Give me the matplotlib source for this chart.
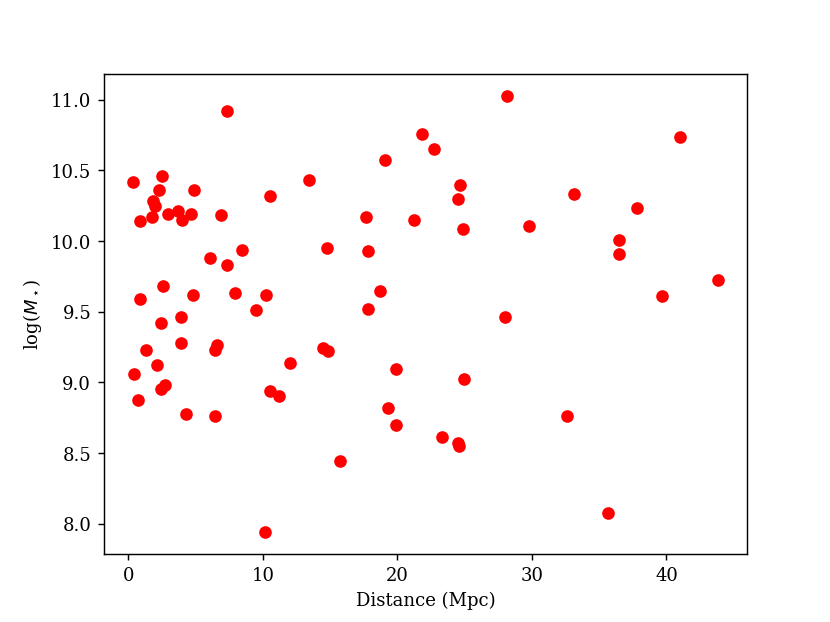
import matplotlib
matplotlib.use("Agg")
import matplotlib.pyplot as plt

plt.rcParams['font.family'] = 'serif'
plt.rcParams['font.serif'] = ['DejaVu Serif']

distance = [7.33, 0.35, 2.53, 2.30, 4.86, 13.41, 10.56, 1.83, 2.00, 0.89,
            1.76, 2.92, 3.67, 4.01, 4.66, 6.86, 8.43, 6.10, 7.34, 2.58,
            0.89, 4.83, 7.93, 10.21, 9.52, 3.94, 2.43, 1.31, 3.92, 6.59,
            6.42, 11.99, 2.13, 0.42, 2.75, 2.40, 10.56, 11.18, 0.69, 4.29,
            6.44, 10.19, 28.13, 21.81, 22.70, 19.11, 24.66, 24.54, 17.64, 21.24,
            24.88, 14.75, 17.84, 18.68, 17.82, 28.03, 14.47, 14.85, 19.87, 24.93,
            19.28, 19.90, 23.35, 24.54, 24.59, 15.76, 40.99, 33.14, 37.84, 29.79,
            36.46, 36.51, 43.82, 39.68, 32.59, 35.64]
log_mass = [10.92, 10.415, 10.46, 10.36, 10.36, 10.43, 10.32, 10.28, 10.25, 10.14,
            10.17, 10.19, 10.21, 10.15, 10.19, 10.185, 9.935, 9.88, 9.83, 9.68,
            9.59, 9.615, 9.63, 9.62, 9.51, 9.46, 9.42, 9.227, 9.276, 9.262,
            9.232, 9.14, 9.12, 9.06, 8.98, 8.95, 8.94, 8.907, 8.876, 8.78,
            8.763, 7.944, 11.026, 10.76, 10.65, 10.57, 10.396, 10.30, 10.17, 10.15,
            10.086, 9.954, 9.93, 9.644, 9.516, 9.464, 9.244, 9.224, 9.097, 9.026,
            8.82, 8.70, 8.614, 8.573, 8.55, 8.443, 10.735, 10.332, 10.233, 10.103,
            10.01, 9.911, 9.727, 9.61, 8.763, 8.076]

fig, ax = plt.subplots(figsize=(6.4, 4.8), dpi=129.7)
ax.scatter(distance, log_mass, color='red', s=36)
ax.set_xlabel('Distance (Mpc)')
ax.set_ylabel(r'log($M_\star$)')
fig.savefig('out.png', dpi=129.7)
